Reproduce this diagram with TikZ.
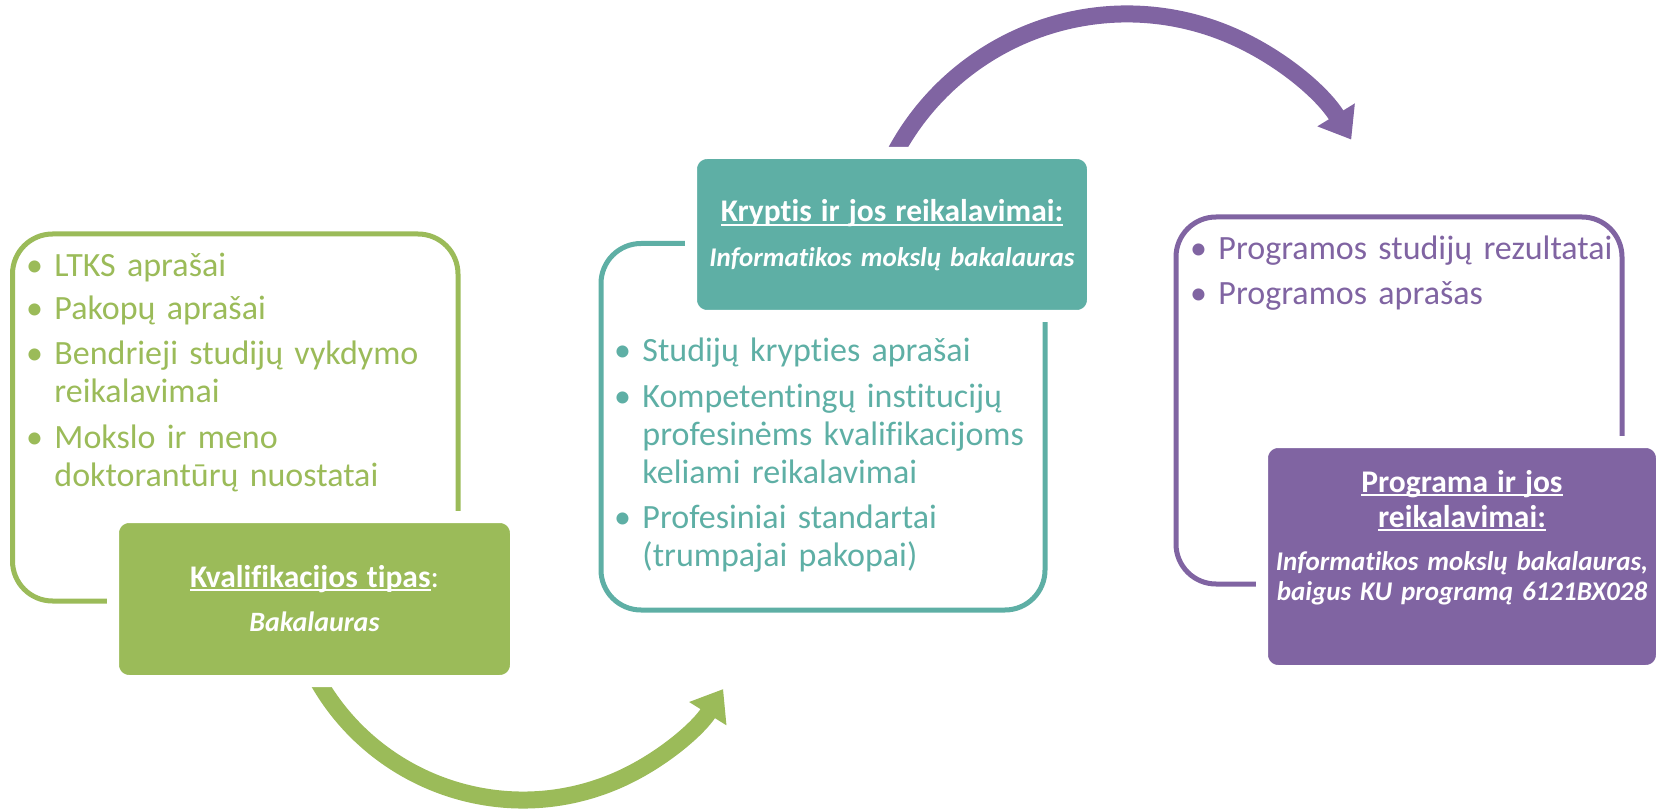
\documentclass[tikz,border=0pt]{standalone}
\usepackage{fontspec}
\setmainfont{Carlito}[Ligatures=NoCommon]
\usetikzlibrary{arrows.meta}
\definecolor{zalia}{HTML}{9BBB59}
\definecolor{melsva}{HTML}{5EAFA5}
\definecolor{violetine}{HTML}{8064A2}
\newsavebox\ulbox
\newcommand\uln[1]{\leavevmode\sbox\ulbox{#1}\rlap{\rule[-4pt]{\wd\ulbox}{2pt}}\usebox\ulbox}
\newcommand\itm{\textbullet\ }
\newcommand\ind{\hphantom{\textbullet\ }}
\newcommand\ttl{\fontsize{31.5}{36}\selectfont}

\tikzset{
  rim/.style={draw=#1, line width=5pt, rounded corners=40pt, inner sep=0pt},
  plate/.style={fill=#1, draw=white, line width=12pt, rounded corners=16pt, inner sep=0pt},
  bul/.style={text=#1, anchor=base west, inner sep=0pt, text width=600pt, align=left,
    font=\fontsize{34}{38}\selectfont},
  hdr/.style={text=white, anchor=base, inner sep=0pt, text width=420pt, align=center,
    font=\fontsize{27}{30}\selectfont\bfseries},
  bow/.style={draw=#1, line width=17pt, -{Triangle[length=29pt,width=42pt]}},
}

\begin{document}
\begin{tikzpicture}[x=1pt,y=1pt]
			\useasboundingbox (0,0) rectangle (1658,-810);

			% remai
			\node[rim=zalia, minimum width=445.5pt, minimum height=367pt] (ltksRem) at (235.25,-417.5) {};
			\node[rim=melsva, minimum width=444pt, minimum height=366.5pt] (kryptisRem) at (823,-426.75) {};
			\node[rim=violetine, minimum width=446pt, minimum height=367pt] (programaRem) at (1399,-400.5) {};

			% lankai
			\coordinate (gc) at (523,-564);
			\coordinate (pc) at (1127,-277);
			\draw[bow=zalia] ([shift={(205:236)}]gc) arc[start angle=205, end angle=328, radius=236];
			\draw[bow=violetine] ([shift={(157:263)}]pc) arc[start angle=157, end angle=31.5, radius=263];

			% plokstes
			\node[plate=zalia, minimum width=403pt, minimum height=164pt] (tipasBox) at (314.5,-599) {};
			\node[plate=melsva, minimum width=402pt, minimum height=163pt] (kryptisBox) at (892,-234.5) {};
			\node[plate=violetine, minimum width=400pt, minimum height=229pt] (programaBox) at (1462,-556.5) {};

			\node[hdr] (tipas) at (314.5,-587)
				{{\ttl\uln{Kvalifikacijos tipas}{\mdseries:}}\\[14pt]
				{\fontsize{28}{30}\selectfont\textit{Bakalauras}}};
			\node[hdr] (kryptis) at (892,-222)
				{{\ttl\uln{Kryptis ir jos reikalavimai:}}\\[15pt]
				\textit{Informatikos mokslų bakalauras}};
			\node[hdr] (programa) at (1462,-492)
				{{\ttl\uln{Programa ir jos}}\\[5pt]
				{\ttl\uln{reikalavimai:}}\\[13pt]
				\textit{Informatikos mokslų bakalauras,}\\
				\textit{baigus KU programą 6121BX028}};

			% sarasai
			\node[bul=zalia] (ltks) at (26,-277)
				{\itm LTKS aprašai\\[5pt]
				\itm Pakopų aprašai\\[7pt]
				\itm Bendrieji studijų vykdymo\\
				\ind reikalavimai\\[8pt]
				\itm Mokslo ir meno\\
				\ind doktorantūrų nuostatai};
			\node[bul=melsva] (aprasai) at (614,-362)
				{\itm Studijų krypties aprašai\\[8pt]
				\itm Kompetentingų institucijų\\
				\ind profesinėms kvalifikacijoms\\
				\ind keliami reikalavimai\\[7pt]
				\itm Profesiniai standartai\\
				\ind (trumpajai pakopai)};
			\node[bul=violetine] (rezultatai) at (1190,-260)
				{\itm Programos studijų rezultatai\\[7pt]
				\itm Programos aprašas};
\end{tikzpicture}
\end{document}
